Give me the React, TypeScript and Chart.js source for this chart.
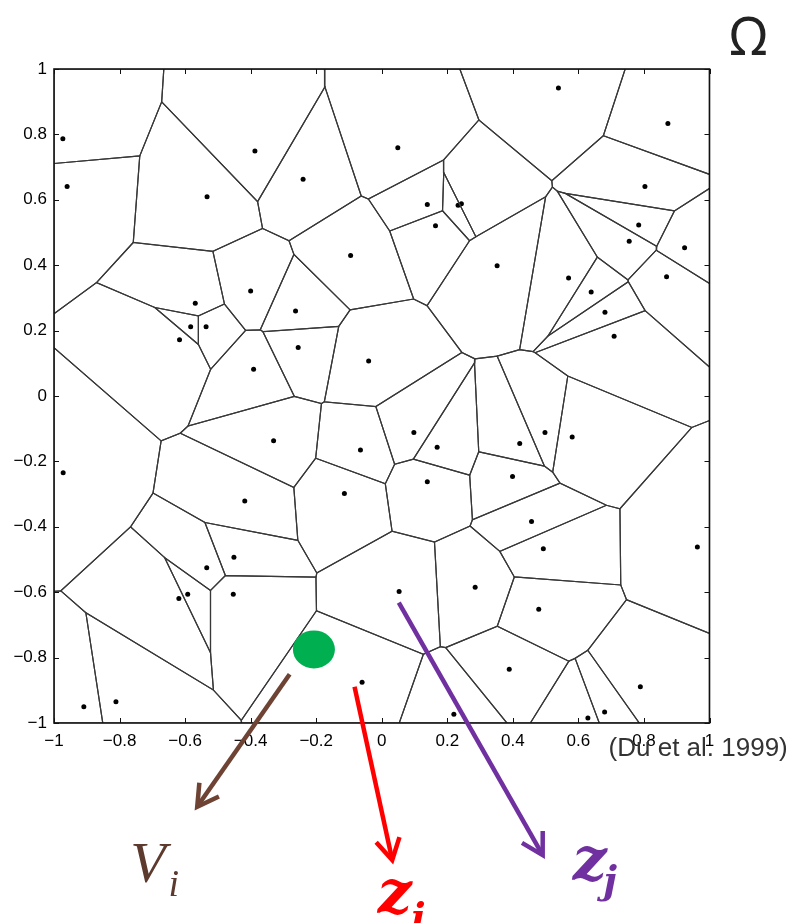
import React, { useEffect, useRef } from "react";
import { Chart, registerables } from "chart.js";
Chart.register(...registerables);

// Generator sites
const siteX = [-0.973, -0.960, -0.533, -0.387, -0.240, 0.049, 0.139, 0.164, 0.233, 0.243, -0.095,
  0.539, 0.873, 0.803, 0.784, 0.755, 0.924, 0.352, 0.570, 0.869,
  -0.400, -0.569, -0.583, -0.536, -0.617, -0.391, -0.330, -0.972, -0.418,
  -0.263, -0.255, -0.040, -0.065, 0.098, 0.169, 0.139, -0.114,
  0.639, 0.681, 0.709, 0.498, 0.581, 0.421, 0.399,
  -0.534, -0.451, -0.619, -0.592, -0.453, -0.909, -0.811,
  0.053, 0.285, -0.060, 0.220,
  0.457, 0.493, 0.963, 0.479, 0.389, 0.789, 0.680, 0.629];
const siteY = [0.787, 0.641, 0.609, 0.749, 0.663, 0.759, 0.586, 0.521, 0.583, 0.588, 0.430,
  0.942, 0.833, 0.641, 0.523, 0.473, 0.453, 0.398, 0.361, 0.365,
  0.321, 0.284, 0.212, 0.212, 0.172, 0.082, -0.137, -0.235, -0.321,
  0.260, 0.148, 0.107, -0.165, -0.112, -0.157, -0.262, -0.298,
  0.318, 0.256, 0.183, -0.112, -0.125, -0.145, -0.246,
  -0.525, -0.493, -0.619, -0.606, -0.606, -0.950, -0.935,
  -0.598, -0.585, -0.875, -0.973,
  -0.384, -0.467, -0.462, -0.652, -0.836, -0.889, -0.966, -0.985];

const tickValues = [-1, -0.8, -0.6, -0.4, -0.2, 0, 0.2, 0.4, 0.6, 0.8, 1];
const tickLabels = ["\u22121", "\u22120.8", "\u22120.6", "\u22120.4", "\u22120.2", "0", "0.2", "0.4", "0.6", "0.8", "1"];

// Annotation arrows (data coordinates)
const arrowNames = ["Vi", "zi", "zj"];
const arrowFromX = [-0.281, -0.083, 0.052];
const arrowFromY = [-0.851, -0.889, -0.632];
const arrowToX = [-0.563, 0.032, 0.491];
const arrowToY = [-1.256, -1.419, -1.404];
const arrowColors = ["#6e4334", "#ff0000", "#7030a0"];

// Green marker (data coordinates)
const markerX = [-0.207];
const markerY = [-0.775];

// Text annotations (data coordinates)
const labelTexts = ["V", "i", "z", "i", "z", "j", "\u03A9", "(Du et al. 1999)"];
const labelX = [-0.767, -0.651, -0.012, 0.090, 0.583, 0.676, 1.119, 0.692];
const labelY = [-1.486, -1.529, -1.581, -1.633, -1.480, -1.520, 1.043, -1.100];
const labelFonts = [
  "italic 58px 'Liberation Serif'",
  "italic 38px 'Liberation Serif'",
  "bold italic 60px 'DejaVu Serif'",
  "bold italic 38px 'DejaVu Serif'",
  "bold italic 60px 'DejaVu Serif'",
  "bold italic 38px 'DejaVu Serif'",
  "52px 'Noto Sans'",
  "26px 'Liberation Sans'",
];
const labelColors = ["#5c3a2e", "#5c3a2e", "#ff0000", "#ff0000", "#7030a0", "#7030a0", "#222222", "#333333"];
const labelAlign = ["left", "left", "left", "left", "left", "left", "center", "left"];

function clipPoly(poly: number[][], nx: number, ny: number, c: number) {
  const out: number[][] = [];
  const n = poly.length;
  for (let k = 0; k < n; k++) {
    const a = poly[k];
    const b = poly[(k + 1) % n];
    const da = nx * a[0] + ny * a[1] - c;
    const db = nx * b[0] + ny * b[1] - c;
    if (da <= 0) out.push(a);
    if ((da < 0 && db > 0) || (da > 0 && db < 0)) {
      const t = da / (da - db);
      out.push([a[0] + t * (b[0] - a[0]), a[1] + t * (b[1] - a[1])]);
    }
  }
  return out;
}

function voronoiCell(i: number) {
  let poly = [[-1, -1], [1, -1], [1, 1], [-1, 1]];
  const px = siteX[i], py = siteY[i];
  for (let j = 0; j < siteX.length; j++) {
    if (j === i) continue;
    const qx = siteX[j], qy = siteY[j];
    const nx = qx - px, ny = qy - py;
    const c = (qx * qx + qy * qy - px * px - py * py) / 2;
    poly = clipPoly(poly, nx, ny, c);
    if (poly.length === 0) break;
  }
  return poly;
}

const annotPlugin = {
  id: "annot",
  afterDraw(chart: any) {
    const ctx = chart.ctx;
    const xs = chart.scales.x;
    const ys = chart.scales.y;
    const ca = chart.chartArea;
    ctx.save();
    // box + inward ticks
    ctx.strokeStyle = "#111";
    ctx.lineWidth = 1.6;
    ctx.strokeRect(ca.left, ca.top, ca.right - ca.left, ca.bottom - ca.top);
    ctx.lineWidth = 1;
    ctx.beginPath();
    tickValues.forEach((v) => {
      const x = Math.round(xs.getPixelForValue(v)) + 0.5;
      ctx.moveTo(x, ca.bottom); ctx.lineTo(x, ca.bottom - 5);
      ctx.moveTo(x, ca.top); ctx.lineTo(x, ca.top + 5);
      const y = Math.round(ys.getPixelForValue(v)) + 0.5;
      ctx.moveTo(ca.left, y); ctx.lineTo(ca.left + 5, y);
      ctx.moveTo(ca.right, y); ctx.lineTo(ca.right - 5, y);
    });
    ctx.stroke();

    // green marker
    markerX.forEach((mx, k) => {
      ctx.fillStyle = "#00b050";
      ctx.beginPath();
      ctx.ellipse(xs.getPixelForValue(mx), ys.getPixelForValue(markerY[k]), 21, 19, 0, 0, Math.PI * 2);
      ctx.fill();
    });

    // arrows
    arrowNames.forEach((_, k) => {
      const x0 = xs.getPixelForValue(arrowFromX[k]);
      const y0 = ys.getPixelForValue(arrowFromY[k]);
      const x1 = xs.getPixelForValue(arrowToX[k]);
      const y1 = ys.getPixelForValue(arrowToY[k]);
      const ang = Math.atan2(y1 - y0, x1 - x0);
      ctx.strokeStyle = arrowColors[k];
      ctx.lineWidth = 4.5;
      ctx.lineCap = "butt";
      ctx.beginPath();
      ctx.moveTo(x0, y0);
      ctx.lineTo(x1 - 2 * Math.cos(ang), y1 - 2 * Math.sin(ang));
      ctx.stroke();
      const L = 24, a = 0.52;
      ctx.lineJoin = "miter";
      ctx.beginPath();
      ctx.moveTo(x1 - L * Math.cos(ang - a), y1 - L * Math.sin(ang - a));
      ctx.lineTo(x1, y1);
      ctx.lineTo(x1 - L * Math.cos(ang + a), y1 - L * Math.sin(ang + a));
      ctx.stroke();
    });

    // labels
    labelTexts.forEach((t, k) => {
      ctx.font = labelFonts[k];
      ctx.fillStyle = labelColors[k];
      ctx.textAlign = labelAlign[k];
      ctx.textBaseline = "alphabetic";
      ctx.fillText(t, xs.getPixelForValue(labelX[k]), ys.getPixelForValue(labelY[k]));
    });
    ctx.restore();
  },
};

export default function App() {
  const ref = useRef<HTMLCanvasElement | null>(null);
  useEffect(() => {
    if (!ref.current) return;
    const datasets: any[] = [];
    for (let i = 0; i < siteX.length; i++) {
      const poly = voronoiCell(i);
      const pts = poly.map((p) => ({ x: p[0], y: p[1] }));
      if (pts.length) pts.push({ ...pts[0] });
      datasets.push({
        data: pts,
        showLine: true,
        borderColor: "#383838",
        borderWidth: 1.2,
        pointRadius: 0,
        fill: false,
        tension: 0,
      });
    }
    datasets.push({
      data: siteX.map((x, i) => ({ x, y: siteY[i] })),
      showLine: false,
      pointRadius: 2.5,
      pointBackgroundColor: "#000",
      pointBorderWidth: 0,
    });
    const tickFont = { family: "'Liberation Sans', Arial, sans-serif", size: 17 };
    const chart = new Chart(ref.current, {
      type: "scatter",
      data: { datasets },
      plugins: [annotPlugin],
      options: {
        animation: false,
        responsive: true,
        maintainAspectRatio: false,
        layout: { padding: { left: 0, right: 85.5, top: 69, bottom: 160 } },
        plugins: { legend: { display: false }, tooltip: { enabled: false } },
        scales: {
          x: {
            type: "linear",
            min: -1,
            max: 1,
            grid: { display: false, drawTicks: false },
            border: { display: false },
            afterBuildTicks: (s: any) => { s.ticks = tickValues.map((v) => ({ value: v })); },
            afterFit: (s: any) => { s.height = 40; },
            ticks: {
              color: "#000",
              font: tickFont,
              padding: 8,
              maxRotation: 0,
              autoSkip: false,
              callback: (_v: any, i: number) => tickLabels[i],
            },
          },
          y: {
            type: "linear",
            min: -1,
            max: 1,
            grid: { display: false, drawTicks: false },
            border: { display: false },
            afterBuildTicks: (s: any) => { s.ticks = tickValues.map((v) => ({ value: v })); },
            afterFit: (s: any) => { s.width = 54; },
            ticks: {
              color: "#000",
              font: tickFont,
              padding: 7,
              autoSkip: false,
              callback: (_v: any, i: number) => tickLabels[i],
            },
          },
        },
      } as any,
    });
    return () => chart.destroy();
  }, []);
  return (
    <div style={{ position: "fixed", left: 0, top: 0, width: 795, height: 923, background: "#fff" }}>
      <canvas ref={ref} />
    </div>
  );
}
